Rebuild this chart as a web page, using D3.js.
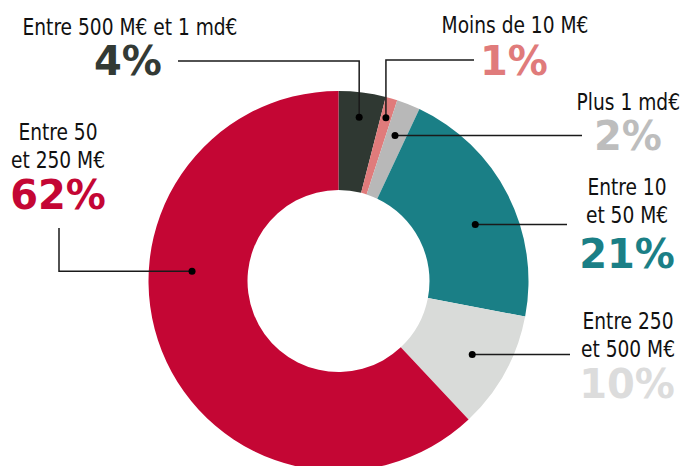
<!DOCTYPE html>
<html><head><meta charset="utf-8">
<script src="https://cdn.jsdelivr.net/npm/d3@7"></script>
<style>
html,body{margin:0;padding:0;background:#fff;}
.lab{font-family:"Liberation Sans Narrow","DejaVu Sans Condensed","Roboto",sans-serif;font-size:23px;fill:#111;}
.pct{font-family:"DejaVu Sans",sans-serif;font-weight:bold;font-size:40px;}
</style></head>
<body>
<svg id="c" width="684" height="466"></svg>
<script>
const categories = ["Entre 500 M€ et 1 md€","Moins de 10 M€","Plus 1 md€","Entre 10 et 50 M€","Entre 250 et 500 M€","Entre 50 et 250 M€"];
const values = [4, 1, 2, 21, 10, 62];
const pctLabels = ["4%","1%","2%","21%","10%","62%"];
const sliceColors = ["#2f3832","#e07b7b","#b8b8b8","#1a7f86","#d9dbd9","#c40634"];
const textColors = ["#333a35","#e07b7b","#bdbdbd","#1b7f86","#dcdcdc","#c40634"];

// label layout (annotation positions)
const labelLines = [["Entre 500 M€ et 1 md€"],["Moins de 10 M€"],["Plus 1 md€"],["Entre 10","et 50 M€"],["Entre 250","et 500 M€"],["Entre 50","et 250 M€"]];
const layout = [
  {x:130, y:35, anchor:"middle", px:128, py:75, frac:0.5, r:165, path:"up", lx:178, ly:61},
  {x:515, y:33, anchor:"middle", px:514, py:75, frac:0.5, r:170, path:"up", lx:474, ly:60},
  {x:680, y:110, anchor:"end", px:628, py:150, frac:0.45, r:156, path:"h", lx:582},
  {x:627, y:195, anchor:"middle", px:627, py:268, frac:0.56, r:148, path:"h", lx:567},
  {x:628, y:329, anchor:"middle", px:627, py:398, frac:0.5, r:152.6, path:"h", lx:570},
  {x:58, y:140, anchor:"middle", px:58, py:209, frac:0.614, r:146.8, path:"down", lx:59, ly:228}
];

const svg = d3.select("#c");
const cx = 338.5, cy = 281, R = 190, r0 = 91;
const g = svg.append("g").attr("transform", `translate(${cx},${cy})`);
const pie = d3.pie().sort(null).value(d => d);
const arcs = pie(values);
const arc = d3.arc().innerRadius(r0).outerRadius(R);
g.selectAll("path.s").data(arcs).join("path").attr("class","s")
  .attr("d", arc).attr("fill", (d,i) => sliceColors[i]);

arcs.forEach((a,i) => {
  const L = layout[i];
  const ang = a.startAngle + (a.endAngle - a.startAngle) * L.frac;
  const dx = cx + L.r * Math.sin(ang), dy = cy - L.r * Math.cos(ang);
  let pts;
  if (L.path === "h") pts = [[dx,dy],[L.lx,dy]];
  else if (L.path === "up") pts = [[dx,dy],[dx,L.ly],[L.lx,L.ly]];
  else pts = [[L.lx,L.ly],[L.lx,dy],[dx,dy]];
  svg.append("path").attr("d", d3.line()(pts)).attr("fill","none")
    .attr("stroke","#1a1a1a").attr("stroke-width",1.5);
  svg.append("circle").attr("cx",dx).attr("cy",dy).attr("r",3.5).attr("fill","#000");

  labelLines[i].forEach((s,k) => {
    svg.append("text").attr("class","lab").attr("text-anchor",L.anchor)
      .attr("transform",`translate(${L.x},${L.y + k*28}) scale(0.9,1)`).text(s);
  });
  svg.append("text").attr("class","pct").attr("text-anchor","middle")
    .attr("x",L.px).attr("y",L.py).attr("fill",textColors[i]).text(pctLabels[i]);
});
</script>
</body></html>
